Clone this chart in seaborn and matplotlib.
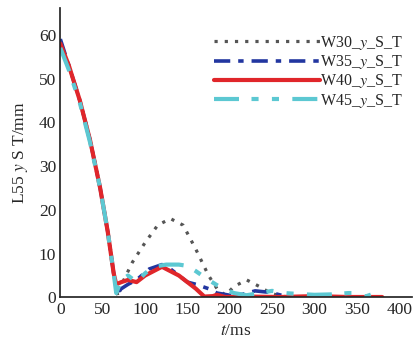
import matplotlib
matplotlib.use("Agg")
import matplotlib.pyplot as plt
import seaborn as sns
import pandas as pd

# 共通の下降部分 (t, y)
t_drop = [0, 10, 23, 35, 47, 56, 63]

t_w30 = t_drop + [68, 75, 85, 100, 115, 130, 145, 160, 175, 185, 195, 205, 220, 235, 248, 260, 270]
y_w30 = [58, 53, 45, 36, 25, 15, 5.5] + [0.2, 4, 8, 12.5, 16.5, 18, 16.5, 11, 5, 2, 0.5, 2.5, 4, 2.5, 1, 0.3, 0.1]

t_w35 = t_drop + [67, 72, 80, 90, 105, 120, 130, 140, 150, 160, 175, 185, 200, 215, 230, 245, 255, 265]
y_w35 = [59, 53, 45, 36, 25, 15, 5.5] + [1, 2, 3, 4, 6.5, 7.5, 6.5, 5, 3.5, 3, 2, 1, 0.5, 0.7, 1.5, 1.2, 0.8, 0.3]

t_w40 = t_drop + [66, 72, 80, 90, 100, 110, 120, 130, 140, 150, 160, 170, 180, 185, 195, 220, 260, 300, 340, 380]
y_w40 = [58, 53, 45, 36, 25, 15, 5.5] + [3, 3.5, 4, 3.5, 5, 6, 7, 6, 5, 3.5, 2, 0.2, 0.3, 0.6, 0.1, 0.2, 0.1, 0.3, 0.1, 0.1]

t_w45 = t_drop + [66, 72, 80, 90, 100, 110, 125, 140, 150, 160, 175, 190, 205, 220, 235, 250, 265, 280, 300, 320, 340, 350, 360, 372, 380]
y_w45 = [57, 52, 44.5, 35.5, 25, 15, 5.5] + [1, 4, 5, 3.5, 5.5, 7, 7.5, 7.5, 7.2, 6, 4, 2.2, 1, 0.5, 1, 1.5, 1, 0.8, 0.6, 0.7, 1, 1, 0.2, 1, 1]

labels = ["W30_$y$_S_T", "W35_$y$_S_T", "W40_$y$_S_T", "W45_$y$_S_T"]

frames = []
for lab, t, y in zip(labels, [t_w30, t_w35, t_w40, t_w45], [y_w30, y_w35, y_w40, y_w45]):
    frames.append(pd.DataFrame({"t": t, "y": y, "series": lab}))
df = pd.concat(frames, ignore_index=True)

sns.set_theme(style="ticks")
plt.rcParams["font.family"] = ["Liberation Serif", "DejaVu Serif"]
plt.rcParams["mathtext.fontset"] = "stix"

fig, ax = plt.subplots(figsize=(4.16, 3.38), dpi=100)
fig.subplots_adjust(left=0.145, right=0.99, bottom=0.12, top=0.975)

colors = ["#555555", "#2236a0", "#e0262a", "#5cc8d2"]
dashes = [(1, 2.2), (4.5, 2.2, 1.5, 2.2), "", (6, 3, 1.7, 3.2, 1.7, 3.2)]
widths = [2.3, 2.6, 3.0, 3.0]

sns.lineplot(data=df, x="t", y="y", hue="series", style="series",
             palette=colors, dashes=dashes, sort=False, ax=ax, legend=True)
for line, w in zip(ax.get_lines(), widths):
    line.set_linewidth(w)

ax.set_xlim(0, 415)
ax.set_ylim(0, 66)
ax.set_xticks(range(0, 401, 50))
ax.set_yticks(range(0, 61, 10))
ax.tick_params(axis="both", labelsize=12.5, length=0, pad=3)
ax.set_xlabel("$t$/ms", fontsize=12.5, labelpad=4)
ax.set_ylabel("L55 $y$ S T/mm", fontsize=12.5, labelpad=6)
sns.despine(ax=ax)

leg = ax.legend(loc="upper right", bbox_to_anchor=(1.0, 0.945), frameon=False,
                fontsize=11.5, handlelength=6.6, handletextpad=0.0,
                labelspacing=0.08, borderaxespad=0.2)
for h, w in zip(leg.get_lines(), widths):
    h.set_linewidth(w)

fig.savefig("out.png", dpi=100)
